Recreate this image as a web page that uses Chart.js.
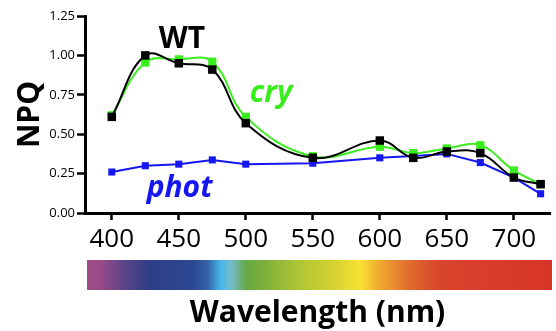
<!DOCTYPE html>
<html>
<head>
<meta charset="utf-8">
<script src="https://cdn.jsdelivr.net/npm/chart.js@4"></script>
<style>
  html, body { margin: 0; padding: 0; background: #fff; }
  #wrap { width: 556px; height: 331px; position: relative; }
</style>
</head>
<body>
<div id="wrap"><canvas id="npq"></canvas></div>
<script>
// NPQ measured at each excitation wavelength (nm)
const wavelengths = [400, 425, 450, 475, 500, 550, 600, 625, 650, 675, 700, 720];
const wtNpq   = [0.61, 1.00, 0.95, 0.91, 0.57, 0.35, 0.46, 0.35, 0.39, 0.38, 0.225, 0.183];
const cryNpq  = [0.62, 0.955, 0.975, 0.96, 0.61, 0.36, 0.42, 0.38, 0.41, 0.43, 0.27, 0.183];
const photNpq = [0.26, 0.30, 0.31, 0.337, 0.31, 0.316, 0.35, 0.362, 0.375, 0.32, 0.225, 0.122];

const xTicks = [400, 450, 500, 550, 600, 650, 700];
const yTicks = [0, 0.25, 0.5, 0.75, 1.0, 1.25];

const GREEN = "rgb(58, 238, 30)";
const BLUE = "rgb(22, 22, 240)";

const toPoints = (vals) => vals.map((v, i) => ({ x: wavelengths[i], y: v }));

// colour stops for the visible spectrum strip under the axis
const spectrumStops = [
  [0.0, "#a04c88"], [0.028, "#9a4a88"], [0.082, "#5a4488"], [0.135, "#2e3e86"],
  [0.232, "#2c4a92"], [0.26, "#3462a8"], [0.286, "#44b4ea"], [0.308, "#74bcd2"],
  [0.344, "#66a842"], [0.372, "#78ae3c"], [0.458, "#b0c634"], [0.523, "#d0d030"],
  [0.587, "#f8e234"], [0.63, "#f0a830"], [0.695, "#e06a2e"], [0.76, "#d8442c"],
  [1.0, "#d83428"],
];

const spectrumBar = {
  id: "spectrumBar",
  afterDraw(chart) {
    const { ctx, chartArea } = chart;
    const left = chartArea.left + 2;
    const right = chart.width - 4;
    const grad = ctx.createLinearGradient(left, 0, right, 0);
    spectrumStops.forEach(([p, c]) => grad.addColorStop(p, c));
    ctx.save();
    ctx.fillStyle = grad;
    ctx.fillRect(left, 260, right - left, 30);
    ctx.restore();
  },
};

// series names written next to their curves
const seriesLabels = [
  { text: "WT", color: "#000", x: 435, y: 1.047, style: "bold" },
  { text: "cry", color: GREEN, x: 503, y: 0.706, style: "italic bold" },
  { text: "phot", color: BLUE, x: 426, y: 0.10, style: "italic bold" },
];

const curveLabels = {
  id: "curveLabels",
  afterDatasetsDraw(chart) {
    const { ctx, scales } = chart;
    ctx.save();
    ctx.textAlign = "left";
    ctx.textBaseline = "alphabetic";
    for (const lbl of seriesLabels) {
      ctx.font = `${lbl.style} 30px "Open Sans"`;
      ctx.fillStyle = lbl.color;
      ctx.fillText(lbl.text, scales.x.getPixelForValue(lbl.x), scales.y.getPixelForValue(lbl.y));
    }
    ctx.restore();
  },
};

function series(data, color, tension, radius) {
  return {
    data: toPoints(data),
    borderColor: color,
    backgroundColor: color,
    borderWidth: 2,
    tension,
    pointStyle: "rect",
    pointRadius: radius,
    pointBorderWidth: 0,
  };
}

new Chart(document.getElementById("npq"), {
  type: "line",
  data: {
    datasets: [
      series(wtNpq, "#000", 0.4, 6),
      series(cryNpq, GREEN, 0.4, 5.8),
      series(photNpq, BLUE, 0, 5),
    ],
  },
  options: {
    responsive: true,
    maintainAspectRatio: false,
    animation: false,
    layout: { padding: { top: 16, left: 0, right: 0, bottom: 0 } },
    plugins: { legend: { display: false }, tooltip: { enabled: false } },
    scales: {
      x: {
        type: "linear",
        min: 380,
        max: 727,
        afterBuildTicks: (scale) => { scale.ticks = xTicks.map((v) => ({ value: v })); },
        afterFit: (scale) => { scale.height = 118; },
        border: { display: true, color: "#000", width: 3 },
        grid: { drawOnChartArea: false, drawTicks: true, tickLength: 7, tickWidth: 2.5, tickColor: "#000" },
        ticks: { color: "#000", padding: 4, font: { family: "Open Sans", size: 26 }, maxRotation: 0 },
        title: {
          display: true,
          text: "Wavelength (nm)",
          color: "#000",
          font: { family: "Open Sans", size: 30, weight: "bold", lineHeight: 1.2 },
          padding: { top: 0, bottom: 0 },
        },
      },
      y: {
        min: 0,
        max: 1.25,
        afterBuildTicks: (scale) => { scale.ticks = yTicks.map((v) => ({ value: v })); },
        afterFit: (scale) => { scale.width = 85; },
        border: { display: true, color: "#000", width: 3 },
        grid: { drawOnChartArea: false, drawTicks: true, tickLength: 8, tickWidth: 2.5, tickColor: "#000" },
        ticks: {
          color: "#000",
          padding: 2,
          font: { family: "Open Sans", size: 13 },
          callback: (v) => Number(v).toFixed(2),
        },
        title: {
          display: true,
          text: "NPQ",
          color: "#000",
          font: { family: "Open Sans", size: 30, weight: "bold", lineHeight: 1.2 },
          padding: { top: 12, bottom: 0 },
        },
      },
    },
  },
  plugins: [spectrumBar, curveLabels],
});
</script>
</body>
</html>
